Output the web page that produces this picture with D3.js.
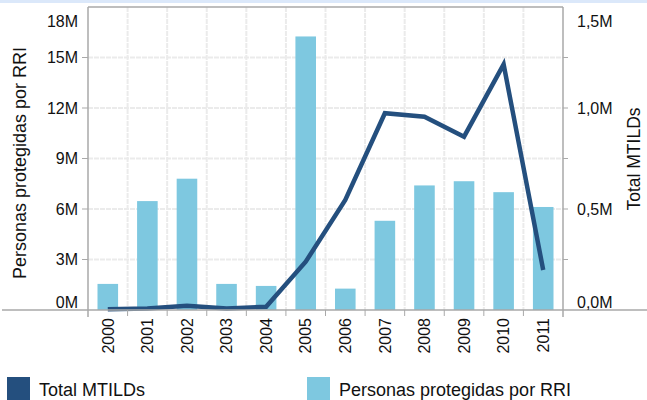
<!DOCTYPE html>
<html>
<head>
<meta charset="utf-8">
<script src="https://cdn.jsdelivr.net/npm/d3@7"></script>
<style>
    body { margin: 0; background: #fff; }
    text { font-family: "Liberation Sans", Arial, sans-serif; fill: #111; }
</style>
</head>
<body>
<div id="chart"></div>
<script>
// chart data
var years = ["2000", "2001", "2002", "2003", "2004", "2005", "2006", "2007", "2008", "2009", "2010", "2011"];
var personas = [1550000, 6470000, 7800000, 1550000, 1430000, 16250000, 1270000, 5300000, 7400000, 7650000, 7000000, 6120000];
var mtilds = [3500, 8000, 21000, 8000, 16000, 239000, 545000, 974000, 957000, 858000, 1216000, 198000];
var leftTicks = [0, 3000000, 6000000, 9000000, 12000000, 15000000, 18000000];
var rightTicks = [0, 500000, 1000000, 1500000];
var rightMinorTicks = [250000, 750000, 1250000];
var leftTitle = "Personas protegidas por RRI";
var rightTitle = "Total MTILDs";
var legendLabels = ["Total MTILDs", "Personas protegidas por RRI"];

var darkBlue = "#244f7e";
var lightBlue = "#7ec8e0";
var axisGray = "#a9a9a9";
var gridGray = "#ebebeb";

var svgWidth = 647;
var svgHeight = 400;
var margin = { top: 7, bottom: 90, right: 84, left: 88 };
var width = svgWidth - margin.left - margin.right;
var height = svgHeight - margin.top - margin.bottom;

var svg = d3.select("#chart")
    .append("svg")
    .attr("width", svgWidth)
    .attr("height", svgHeight);

// light header strip at the very top
svg.append("rect")
    .attr("x", 0).attr("y", 0)
    .attr("width", svgWidth).attr("height", 3)
    .attr("fill", "#dbe8fa");

var chartGroup = svg.append("g")
    .attr("transform", `translate(${margin.left}, ${margin.top})`);

// scales
var xscale = d3.scaleBand().domain(years).range([0, width]).paddingInner(0.48).paddingOuter(0.24);
var yLeft = d3.scaleLinear().domain([0, 18000000]).range([height, 0]);
var yRight = d3.scaleLinear().domain([0, 1500000]).range([height, 0]);
var step = xscale.step();

// gridlines
chartGroup.append("g").selectAll("line")
    .data(leftTicks.slice(1, -1))
    .enter().append("line")
    .attr("x1", 0).attr("x2", width)
    .attr("y1", d => yLeft(d)).attr("y2", d => yLeft(d))
    .attr("stroke", gridGray).attr("stroke-width", 2)
    .attr("stroke-dasharray", "5,1");

chartGroup.append("g").selectAll("line")
    .data(years.slice(1))
    .enter().append("line")
    .attr("x1", (d, i) => (i + 1) * step).attr("x2", (d, i) => (i + 1) * step)
    .attr("y1", 0).attr("y2", height)
    .attr("stroke", gridGray).attr("stroke-width", 2)
    .attr("stroke-dasharray", "5,1");

// bars
chartGroup.append("g").selectAll("rect")
    .data(personas)
    .enter().append("rect")
    .attr("x", (d, i) => xscale(years[i]))
    .attr("y", d => yLeft(d))
    .attr("width", xscale.bandwidth())
    .attr("height", d => height - yLeft(d))
    .attr("fill", lightBlue);

// line
var line = d3.line()
    .x((d, i) => xscale(years[i]) + xscale.bandwidth() / 2)
    .y(d => yRight(d));

chartGroup.append("path")
    .datum(mtilds)
    .attr("d", line)
    .attr("fill", "none")
    .attr("stroke", darkBlue)
    .attr("stroke-width", 4.5);

// frame: left, right, top
chartGroup.append("line")
    .attr("x1", 0).attr("x2", 0).attr("y1", 0).attr("y2", height + 7)
    .attr("stroke", axisGray).attr("stroke-width", 1.5);
chartGroup.append("line")
    .attr("x1", width).attr("x2", width).attr("y1", 0).attr("y2", height + 7)
    .attr("stroke", axisGray).attr("stroke-width", 1.5);
chartGroup.append("line")
    .attr("x1", 0).attr("x2", width).attr("y1", 0).attr("y2", 0)
    .attr("stroke", axisGray).attr("stroke-width", 1.5);
// bottom axis line runs the full width
chartGroup.append("line")
    .attr("x1", -margin.left + 2).attr("x2", width + margin.right).attr("y1", height).attr("y2", height)
    .attr("stroke", axisGray).attr("stroke-width", 1.5);

// x ticks between categories
chartGroup.append("g").selectAll("line")
    .data(years.slice(1))
    .enter().append("line")
    .attr("x1", (d, i) => (i + 1) * step).attr("x2", (d, i) => (i + 1) * step)
    .attr("y1", height).attr("y2", height + 6)
    .attr("stroke", axisGray).attr("stroke-width", 1);

// x labels, rotated
chartGroup.append("g").selectAll("text")
    .data(years)
    .enter().append("text")
    .attr("transform", d => `translate(${xscale(d) + xscale.bandwidth() / 2}, ${height + 8}) rotate(-90)`)
    .attr("text-anchor", "end")
    .attr("dy", "0.36em")
    .attr("font-size", "16px")
    .text(d => d);

// left axis ticks + labels
chartGroup.append("g").selectAll("line")
    .data(leftTicks.slice(1, -1))
    .enter().append("line")
    .attr("x1", -6).attr("x2", 0)
    .attr("y1", d => yLeft(d)).attr("y2", d => yLeft(d))
    .attr("stroke", axisGray);

chartGroup.append("g").selectAll("text")
    .data(leftTicks)
    .enter().append("text")
    .attr("x", -10)
    .attr("y", function(d, i) {
        // end labels are nudged inside the plot
        if (i == 0) return yLeft(d) - 8;
        if (i == leftTicks.length - 1) return yLeft(d) + 14;
        return yLeft(d);
    })
    .attr("dy", "0.36em")
    .attr("text-anchor", "end")
    .attr("font-size", "16px")
    .text(d => (d / 1000000) + "M");

// right axis ticks + labels
chartGroup.append("g").selectAll("line")
    .data(rightTicks.slice(1, -1).concat(rightMinorTicks))
    .enter().append("line")
    .attr("x1", width).attr("x2", width + 5)
    .attr("y1", d => yRight(d)).attr("y2", d => yRight(d))
    .attr("stroke", axisGray);

chartGroup.append("g").selectAll("text")
    .data(rightTicks)
    .enter().append("text")
    .attr("x", width + 14)
    .attr("y", function(d, i) {
        if (i == 0) return yRight(d) - 8;
        if (i == rightTicks.length - 1) return yRight(d) + 14;
        return yRight(d);
    })
    .attr("dy", "0.36em")
    .attr("font-size", "16px")
    .text(d => (d / 1000000).toFixed(1).replace(".", ",") + "M");

// axis titles
svg.append("text")
    .attr("transform", "translate(20, 163) rotate(-90)")
    .attr("text-anchor", "middle")
    .attr("dy", "0.36em")
    .attr("font-size", "18px")
    .text(leftTitle);

svg.append("text")
    .attr("transform", "translate(634, 159) rotate(-90)")
    .attr("text-anchor", "middle")
    .attr("dy", "0.36em")
    .attr("font-size", "17.5px")
    .text(rightTitle);

// legend
var legendX = [7, 307];
var legendColors = [darkBlue, lightBlue];
var legend = svg.append("g").selectAll("g")
    .data(legendLabels)
    .enter().append("g")
    .attr("transform", (d, i) => `translate(${legendX[i]}, 377)`);

legend.append("rect")
    .attr("width", 23).attr("height", 23)
    .attr("fill", (d, i) => legendColors[i]);

legend.append("text")
    .attr("x", 32).attr("y", 18.5)
    .attr("font-size", "18px")
    .text(d => d);
</script>
</body>
</html>
